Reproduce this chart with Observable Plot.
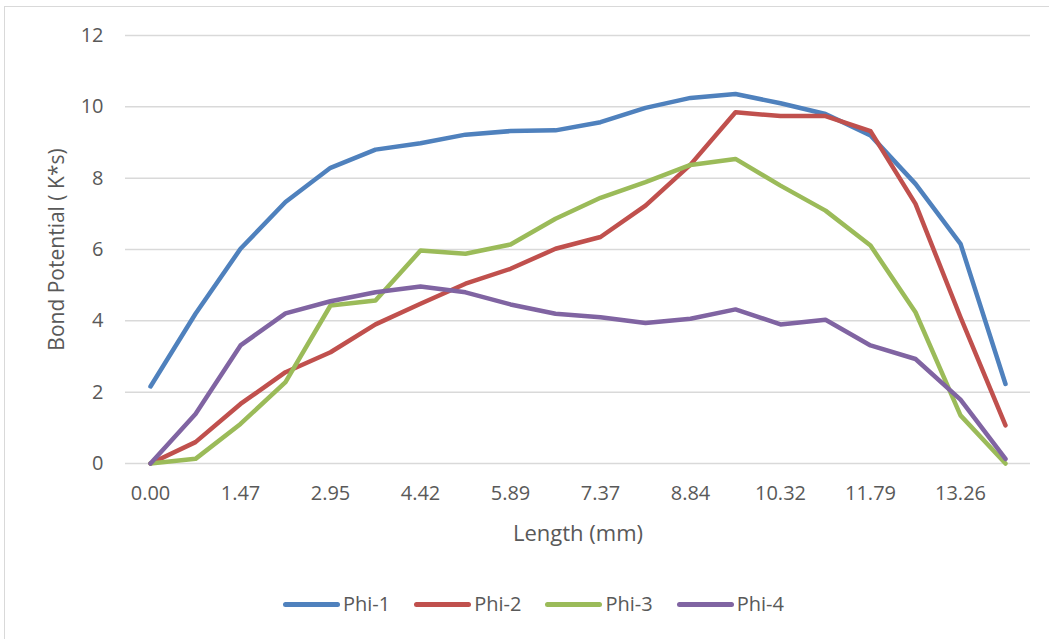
<!DOCTYPE html>
<html>
<head>
<meta charset="utf-8">
<script src="https://cdn.jsdelivr.net/npm/d3@7"></script>
<script src="https://cdn.jsdelivr.net/npm/@observablehq/plot@0.6"></script>
<style>
  html, body { margin: 0; padding: 0; background: #fff; }
  body { width: 1049px; height: 639px; position: relative; overflow: hidden; font-family: "Open Sans", sans-serif; }
  #frame { position: absolute; left: 4px; top: 6px; width: 1200px; height: 800px; border-left: 1.5px solid #d9d9d9; border-top: 1.5px solid #d9d9d9; }
  #chart { position: absolute; left: 0; top: 0; }
  #legend { position: absolute; left: 283px; top: 590px; display: flex; align-items: center; height: 28px; }
  .item { display: flex; align-items: center; margin-right: 24px; }
  .swatch { width: 57px; height: 5px; border-radius: 3px; margin-right: 3px; }
  .lbl { font-size: 20px; color: #595959; line-height: 28px; }
</style>
</head>
<body>
<div id="frame"></div>
<div id="chart"></div>
<div id="legend"></div>
<script>
const xLabels = ["0.00","0.74","1.47","2.21","2.95","3.68","4.42","5.16","5.89","6.63","7.37","8.11","8.84","9.58","10.32","11.05","11.79","12.53","13.26","14.00"];
const seriesNames = ["Phi-1","Phi-2","Phi-3","Phi-4"];
const seriesColors = ["#4F81BD","#C0504D","#9BBB59","#8064A2"];
const phi1 = [2.16,4.20,6.02,7.33,8.29,8.80,8.98,9.22,9.32,9.34,9.57,9.97,10.25,10.36,10.10,9.80,9.20,7.84,6.16,2.23];
const phi2 = [0.00,0.60,1.67,2.56,3.12,3.90,4.48,5.04,5.46,6.02,6.35,7.23,8.38,9.85,9.74,9.74,9.32,7.28,4.10,1.07];
const phi3 = [0.00,0.13,1.11,2.28,4.43,4.57,5.97,5.88,6.14,6.86,7.45,7.89,8.37,8.54,7.79,7.09,6.11,4.24,1.35,0.00];
const phi4 = [0.00,1.39,3.31,4.21,4.55,4.80,4.96,4.80,4.46,4.20,4.10,3.94,4.06,4.32,3.90,4.03,3.31,2.93,1.79,0.13];
const yTicks = [0,2,4,6,8,10,12];
const xTickLabels = ["0.00","1.47","2.95","4.42","5.89","7.37","8.84","10.32","11.79","13.26"];
const xTitle = "Length (mm)";
const yTitle = "Bond Potential ( K*s)";

const allSeries = [phi1, phi2, phi3, phi4];
const data = [];
allSeries.forEach((vals, s) => vals.forEach((v, i) => data.push({series: seriesNames[s], x: xLabels[i], y: v})));

const chart = Plot.plot({
  width: 1049,
  height: 570,
  marginLeft: 125,
  marginRight: 19,
  marginTop: 35,
  marginBottom: 107,
  style: {fontFamily: "Open Sans, sans-serif", fontSize: "20px", color: "#595959", background: "transparent"},
  x: {type: "point", domain: xLabels, padding: 0.5},
  y: {domain: [0, 12]},
  color: {domain: seriesNames, range: seriesColors},
  marks: [
    Plot.gridY(yTicks, {stroke: "#d9d9d9", strokeOpacity: 1, strokeWidth: 1.5}),
    Plot.axisY(yTicks, {tickSize: 0, tickPadding: 22, label: null, fontSize: 20}),
    Plot.axisX(xTickLabels, {tickSize: 0, tickPadding: 22, label: null, fontSize: 20}),
    Plot.line(data, {x: "x", y: "y", z: "series", stroke: "series", strokeWidth: 4.5, strokeLinecap: "round", strokeLinejoin: "round"}),
    Plot.text([xTitle], {frameAnchor: "bottom", dy: 70, fontSize: 22, fill: "#595959", lineAnchor: "middle"}),
    Plot.text([yTitle], {frameAnchor: "left", dx: -68, rotate: -90, fontSize: 21, fill: "#595959", lineAnchor: "middle", textAnchor: "middle"})
  ]
});
document.getElementById("chart").appendChild(chart);

const legend = document.getElementById("legend");
seriesNames.forEach((name, i) => {
  const item = document.createElement("div");
  item.className = "item";
  const sw = document.createElement("div");
  sw.className = "swatch";
  sw.style.background = seriesColors[i];
  const lb = document.createElement("span");
  lb.className = "lbl";
  lb.textContent = name;
  item.appendChild(sw);
  item.appendChild(lb);
  legend.appendChild(item);
});
</script>
</body>
</html>
